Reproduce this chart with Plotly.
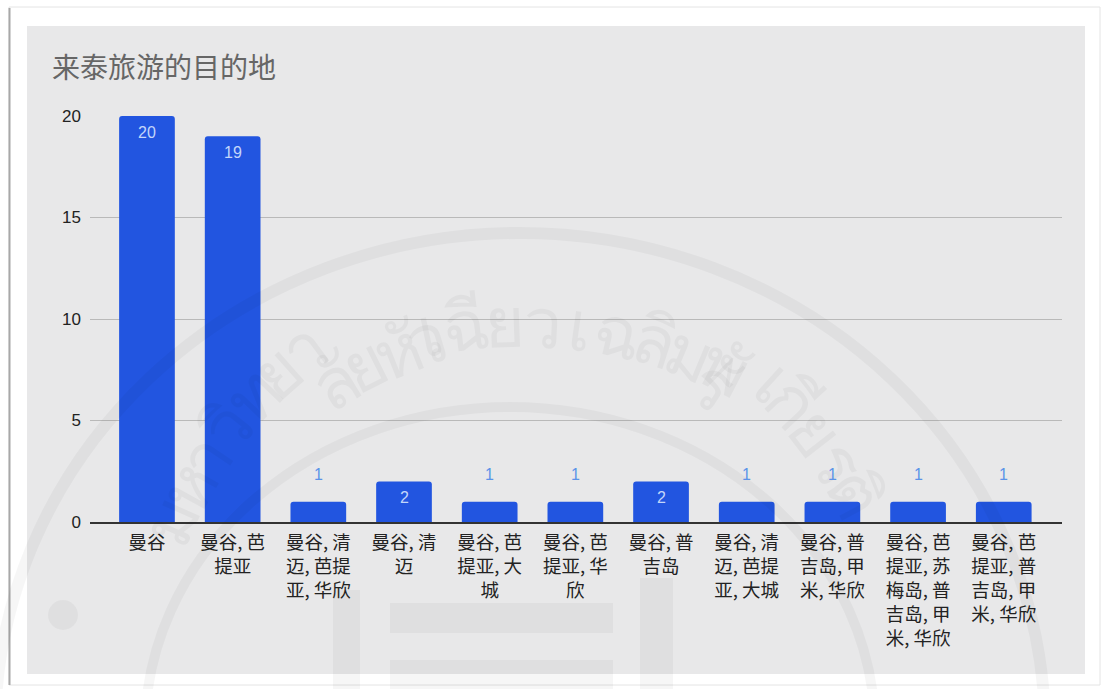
import math
import plotly.graph_objects as go

title = "来泰旅游的目的地"
categories = ["曼谷", "曼谷, 芭提亚", "曼谷, 清迈, 芭提亚, 华欣", "曼谷, 清迈", "曼谷, 芭提亚, 大城",
              "曼谷, 芭提亚, 华欣", "曼谷, 普吉岛", "曼谷, 清迈, 芭提亚, 大城", "曼谷, 普吉岛, 甲米, 华欣",
              "曼谷, 芭提亚, 苏梅岛, 普吉岛, 甲米, 华欣", "曼谷, 芭提亚, 普吉岛, 甲米, 华欣"]
tick_labels = ["曼谷", "曼谷, 芭<br>提亚", "曼谷, 清<br>迈, 芭提<br>亚, 华欣", "曼谷, 清<br>迈", "曼谷, 芭<br>提亚, 大<br>城",
               "曼谷, 芭<br>提亚, 华<br>欣", "曼谷, 普<br>吉岛", "曼谷, 清<br>迈, 芭提<br>亚, 大城", "曼谷, 普<br>吉岛, 甲<br>米, 华欣",
               "曼谷, 芭<br>提亚, 苏<br>梅岛, 普<br>吉岛, 甲<br>米, 华欣", "曼谷, 芭<br>提亚, 普<br>吉岛, 甲<br>米, 华欣"]
values = [20, 19, 1, 2, 1, 1, 2, 1, 1, 1, 1]
seal_text = "มหาวิทยาลัยหัวเฉียวเฉลิมพระเกียรติ"

W, H = 1101, 689
L, R, T, B = 90, 1062, 116, 522
CJK = "Noto Sans CJK SC"
SEAL = "rgba(0,0,0,0.035)"


def px(x):
    return (x - L) / (R - L)


def py(y):
    return (B - y) / (B - T)


def box(x0, x1, y0, y1, **kw):
    return dict(xref="paper", yref="paper", x0=px(x0), x1=px(x1), y0=py(y0), y1=py(y1), **kw)


shapes = [
    box(9, 1100, 7, 685, type="rect", line=dict(color="#e4e4e4", width=1), fillcolor="#ffffff", layer="below"),
    box(9.5, 9.5, 8, 685, type="line", line=dict(color="#a8a8a8", width=2), layer="below"),
    box(27, 1085, 26, 674, type="rect", line=dict(width=0), fillcolor="#e8e8e9", layer="below"),
]
# faint seal over the whole picture
for cx, cy, rx, ry, w in [(520, 730, 525, 497, 12), (510, 730, 365, 323, 10)]:
    shapes.append(box(cx - rx, cx + rx, cy - ry, cy + ry, type="circle",
                      line=dict(color=SEAL, width=w), layer="above"))
for x0, x1, y0, y1 in [(333, 360, 590, 689), (640, 673, 578, 689), (390, 613, 603, 633), (390, 613, 660, 689),
                       (48, 78, 600, 630)]:
    shapes.append(box(x0, x1, y0, y1, type="circle" if x0 == 48 else "rect", line=dict(width=0),
                      fillcolor=SEAL, layer="above"))

annotations = []
# seal lettering along the arc, combining marks stay with their base letter
clusters = []
for ch in seal_text:
    if clusters and (ch == "\u0e31" or "\u0e34" <= ch <= "\u0e3a" or "\u0e47" <= ch <= "\u0e4e"):
        clusters[-1] += ch
    else:
        clusters.append(ch)
n = len(clusters)
for i, ch in enumerate(clusters):
    a = -66 + 128 * i / (n - 1)
    sx = 520 + 445 * math.sin(math.radians(a))
    sy = 730 - 410 * math.cos(math.radians(a))
    annotations.append(dict(text=ch, xref="paper", yref="paper", x=px(sx), y=py(sy), showarrow=False,
                            textangle=a, font=dict(family="Noto Sans", size=70, color=SEAL)))
annotations.append(dict(text=title, xref="paper", yref="paper", x=px(50), y=py(66), xanchor="left", yanchor="middle",
                        showarrow=False, font=dict(family=CJK, size=28, color="#666666")))
for c, v in zip(categories, values):
    inside = v > 1
    annotations.append(dict(text=str(v), x=c, y=v, xref="x", yref="y", showarrow=False,
                            yshift=-16 if inside else 27, yanchor="middle",
                            font=dict(family="Liberation Sans", size=16, color="#c3d6fa" if inside else "#5b93e8")))

fig = go.Figure(go.Bar(x=categories, y=values, width=0.65, marker=dict(color="#2255e0", line=dict(width=0)),
                       hoverinfo="x+y"))
fig.update_layout(
    width=W, height=H, margin=dict(l=L, r=W - R, t=T, b=H - B), showlegend=False, barcornerradius=3,
    paper_bgcolor="#ffffff", plot_bgcolor="rgba(0,0,0,0)", shapes=shapes, annotations=annotations,
    xaxis=dict(type="category", categoryorder="array", categoryarray=categories, range=[-0.665, 10.68],
               tickmode="array", tickvals=categories, ticktext=tick_labels, ticks="", tickangle=0, showgrid=False,
               showline=True, linecolor="#333333", linewidth=1.5, automargin=False, ticklabelstandoff=3,
               tickfont=dict(family=CJK, size=18.5, color="#222222")),
    yaxis=dict(range=[0, 20], tickvals=[0, 5, 10, 15, 20], gridcolor="#b9b9b9", gridwidth=1, zeroline=False,
               ticks="", automargin=False, ticklabelstandoff=8,
               tickfont=dict(family="Liberation Sans", size=17, color="#222222")),
)
fig.write_html("out.html", config=dict(displayModeBar=False),
               post_script="document.body.style.margin='0';document.body.style.overflow='hidden';")
